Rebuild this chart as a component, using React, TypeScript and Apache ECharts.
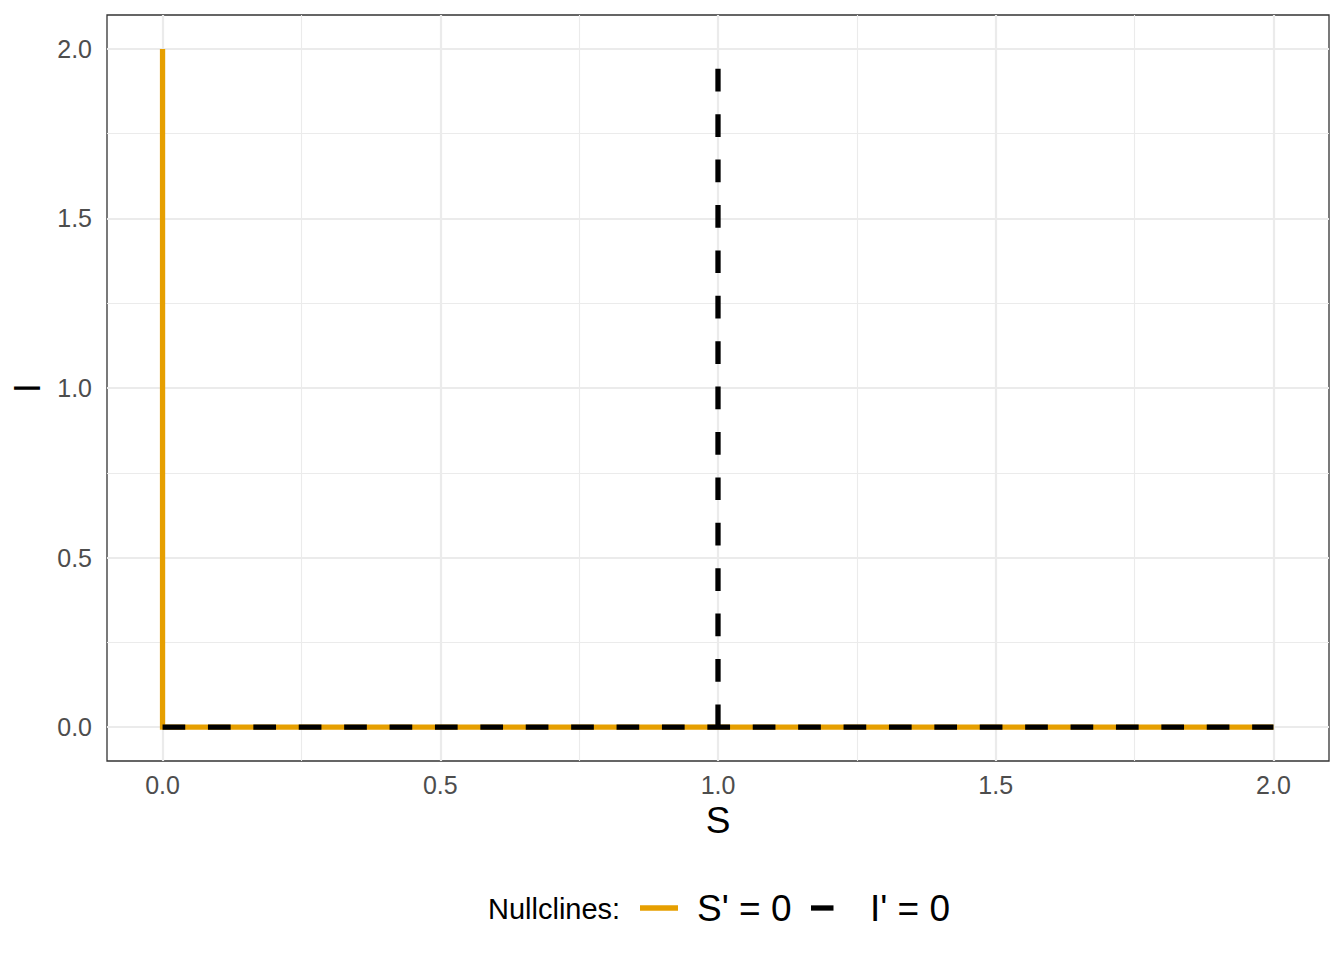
import React, { useEffect, useRef } from "react";
import * as echarts from "echarts";

// Axis breaks
const xMajor = [0, 0.5, 1, 1.5, 2];
const xMinor = [0.25, 0.75, 1.25, 1.75];
const yMajor = [0, 0.5, 1, 1.5, 2];
const yMinor = [0.25, 0.75, 1.25, 1.75];

// S' = 0 nullcline (S = 0 and I = 0)
const sNullS = [0, 0, 2];
const sNullI = [2, 0, 0];

// I' = 0 nullcline (S = 1 and I = 0)
const iNullVertS = [1, 1];
const iNullVertI = [0, 2];
const iNullHorizS = [0, 2];
const iNullHorizI = [0, 0];

const legendTitle = "Nullclines:";
const legendLabels = ["S' = 0", "I' = 0"];

const ORANGE = "#E69F00";
const FONT = "Liberation Sans, Arial, Helvetica, sans-serif";

const zip = (a: number[], b: number[]) => a.map((v, i) => [v, b[i]]);

export default function App() {
  const ref = useRef<HTMLDivElement>(null);
  useEffect(() => {
    document.body.style.margin = "0";
    const chart = echarts.init(ref.current!, undefined, { renderer: "svg" });
    const gridLine = (w: number) => ({ color: "#ebebeb", width: w, type: "solid" as const });
    const lineW = 5.3;
    const dash = [22.7, 22.7];
    chart.setOption({
      animation: false,
      backgroundColor: "#ffffff",
      textStyle: { fontFamily: FONT },
      grid: {
        left: 107,
        right: 15,
        top: 15,
        bottom: 199,
        outerBoundsMode: "none",
        containLabel: false,
        show: true,
        borderColor: "#333333",
        borderWidth: 1.3,
        backgroundColor: "transparent",
      },
      xAxis: {
        type: "value",
        min: -0.1,
        max: 2.1,
        name: "S",
        nameLocation: "middle",
        nameGap: 38,
        nameTextStyle: { fontSize: 37, color: "#000", fontFamily: FONT },
        axisLine: { show: false },
        axisTick: {
          show: true,
          customValues: xMajor,
          length: 7,
          lineStyle: { color: "#333333", width: 1.5 },
        },
        axisLabel: {
          customValues: xMajor,
          formatter: (v: number) => v.toFixed(1),
          fontSize: 25,
          color: "#4d4d4d",
          margin: 11,
          fontFamily: FONT,
        },
        splitLine: { show: false },
      },
      yAxis: {
        type: "value",
        min: -0.1,
        max: 2.1,
        name: "I",
        nameLocation: "middle",
        nameGap: 60,
        nameRotate: 90,
        nameTextStyle: { fontSize: 37, color: "#000", fontFamily: FONT },
        axisLine: { show: false },
        axisTick: {
          show: true,
          customValues: yMajor,
          length: 7,
          lineStyle: { color: "#333333", width: 1.5 },
        },
        axisLabel: {
          customValues: yMajor,
          formatter: (v: number) => v.toFixed(1),
          fontSize: 25,
          color: "#4d4d4d",
          margin: 15,
          fontFamily: FONT,
        },
        splitLine: { show: false },
      },
      series: [
        {
          type: "line",
          name: "grid",
          z: 1,
          silent: true,
          data: [[0, 0]],
          symbol: "none",
          lineStyle: { opacity: 0 },
          markLine: {
            z: 1,
            silent: true,
            symbol: ["none", "none"],
            label: { show: false },
            animation: false,
            data: [
              ...xMinor.map((v) => ({ xAxis: v, lineStyle: gridLine(1.1) })),
              ...yMinor.map((v) => ({ yAxis: v, lineStyle: gridLine(1.1) })),
              ...xMajor.map((v) => ({ xAxis: v, lineStyle: gridLine(2.2) })),
              ...yMajor.map((v) => ({ yAxis: v, lineStyle: gridLine(2.2) })),
            ],
          },
        },
        {
          type: "line",
          name: legendLabels[0],
          z: 6,
          silent: true,
          data: zip(sNullS, sNullI),
          symbol: "none",
          lineStyle: { color: ORANGE, width: lineW, cap: "butt", join: "miter" },
        },
        {
          type: "line",
          name: legendLabels[1],
          z: 7,
          silent: true,
          data: zip(iNullHorizS, iNullHorizI),
          symbol: "none",
          lineStyle: { color: "#000", width: lineW, type: dash, cap: "butt" },
        },
        {
          type: "line",
          name: legendLabels[1] + " ",
          z: 7,
          silent: true,
          data: zip(iNullVertS, iNullVertI),
          symbol: "none",
          lineStyle: { color: "#000", width: lineW, type: dash, cap: "butt" },
        },
      ],
      graphic: [
        {
          type: "text",
          left: 488,
          top: 894,
          silent: true,
          style: { text: legendTitle, fontSize: 29, fill: "#000", fontFamily: FONT },
        },
        {
          type: "line",
          silent: true,
          shape: { x1: 640, y1: 908, x2: 678, y2: 908 },
          style: { stroke: ORANGE, lineWidth: lineW },
        },
        {
          type: "text",
          left: 697,
          top: 890,
          silent: true,
          style: { text: legendLabels[0], fontSize: 37, fill: "#000", fontFamily: FONT },
        },
        {
          type: "line",
          silent: true,
          shape: { x1: 811, y1: 908, x2: 833.5, y2: 908 },
          style: { stroke: "#000", lineWidth: lineW },
        },
        {
          type: "text",
          left: 870,
          top: 890,
          silent: true,
          style: { text: legendLabels[1], fontSize: 37, fill: "#000", fontFamily: FONT },
        },
      ],
    });
    return () => chart.dispose();
  }, []);
  return <div ref={ref} style={{ width: 1344, height: 960 }} />;
}
